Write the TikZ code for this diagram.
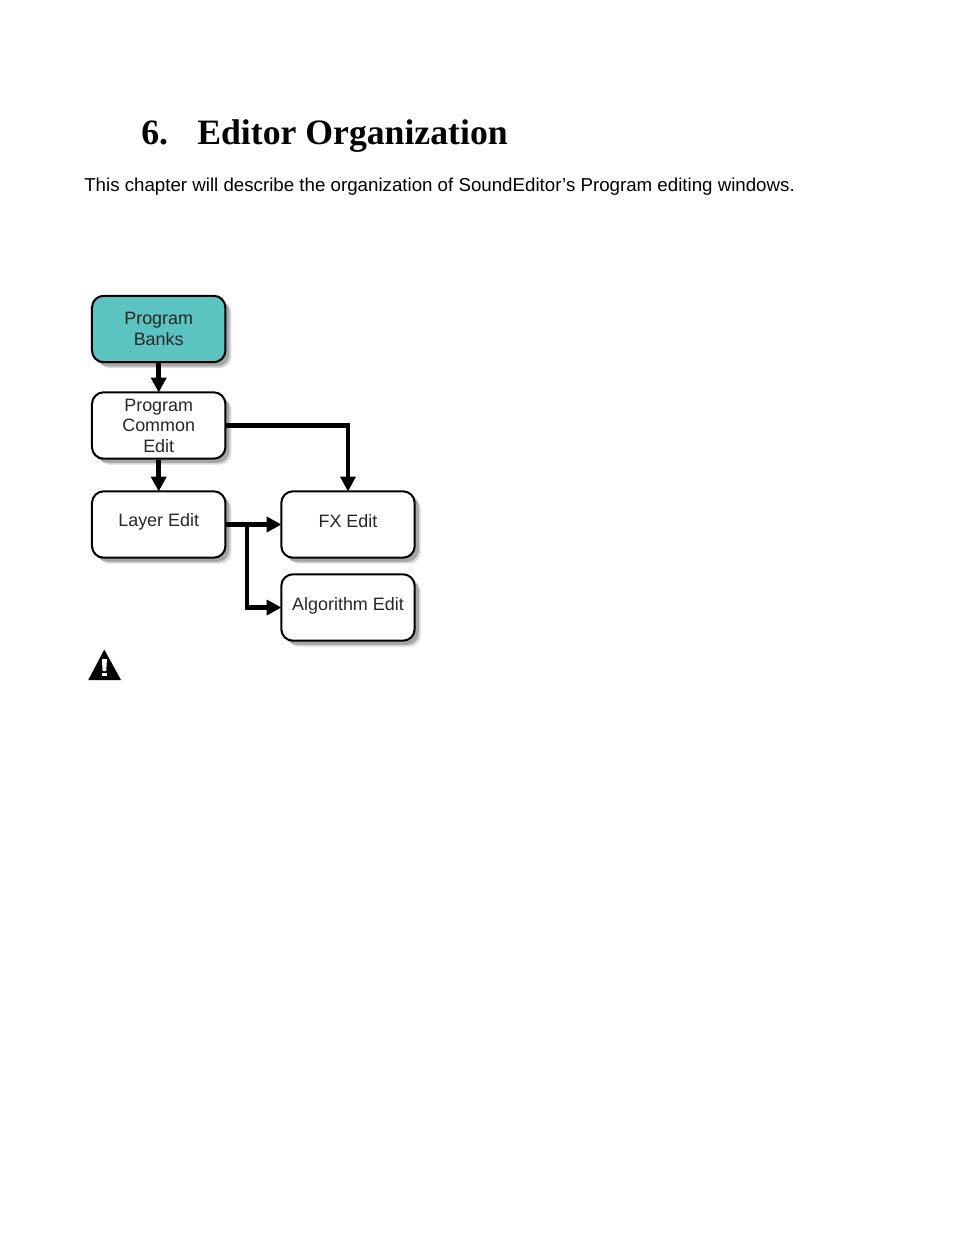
\documentclass[tikz,border=0pt]{standalone}
\usepackage{fontspec}
\setmainfont{Liberation Sans}
\newfontfamily\headfont{Liberation Serif}
\usetikzlibrary{arrows.meta}
\definecolor{teal1}{RGB}{92,196,192}
\newcommand{\bl}[2]{\raisebox{#1}[0pt][0pt]{#2}}
\tikzset{
  x=0.6415pt,y=-0.6415pt,
  editbox/.style={draw=black,line width=1.3pt,rounded corners=7.5pt,fill=white,
    minimum width=85.6pt,minimum height=42.6pt,inner sep=0pt,align=center,font=\fontsize{11.5}{13.2}\selectfont,
    text=black!85,
    preaction={draw=none,fill=black!15,transform canvas={shift={(3.8pt,-3.8pt)}}},
    preaction={draw=none,fill=black!35,transform canvas={shift={(2.6pt,-2.6pt)}}}},
  link/.style={draw=black,line width=2.9pt,shorten >=-0.8pt,-{Triangle[length=9.5pt,width=9.5pt]}},
  pagetext/.style={anchor=base west,inner sep=0pt}
}
\begin{document}
\begin{tikzpicture}
\useasboundingbox (0,0) rectangle (954,1235);
\fill[white] (0,0) rectangle (954,1235);
\node[pagetext,font=\headfont\bfseries\fontsize{22.9}{26}\selectfont] (num) at (141,144) {6.};
\node[pagetext,font=\headfont\bfseries\fontsize{22.9}{26}\selectfont] (title) at (197,144) {Editor Organization};
\node[pagetext,font=\fontsize{12}{14}\selectfont] (intro) at (84,191) {This chapter will describe the organization of SoundEditor’s Program editing windows.};
\node[editbox,fill=teal1] (pb) at (158.7,329) {Program\\Banks};
\node[editbox] (pc) at (158.7,425.5) {Program\\Common\\Edit};
\node[editbox] (le) at (158.7,524.5) {\bl{-1pt}{Layer Edit}};
\node[editbox] (fx) at (348,524.5) {\bl{-2pt}{FX Edit}};
\node[editbox] (al) at (348,607.5) {\bl{-2pt}{Algorithm Edit}};
\coordinate (j) at (247,524.5);
\draw[link] (pb) -- (pc);
\draw[link] (pc) -- (le);
\draw[link] (pc.east) -| (fx.north);
\draw[link] (le.east) -- (fx.west);
\draw[link] (j) |- (al.west);
\fill[black] (104.3,649.5) -- (121,680) -- (88.3,680) -- cycle;
\fill[white] (101.8,659) -- (107,659) -- (106.2,671) -- (102.6,671) -- cycle;
\fill[white] (102.2,672.6) rectangle (106.6,676.4);
\end{tikzpicture}
\end{document}
